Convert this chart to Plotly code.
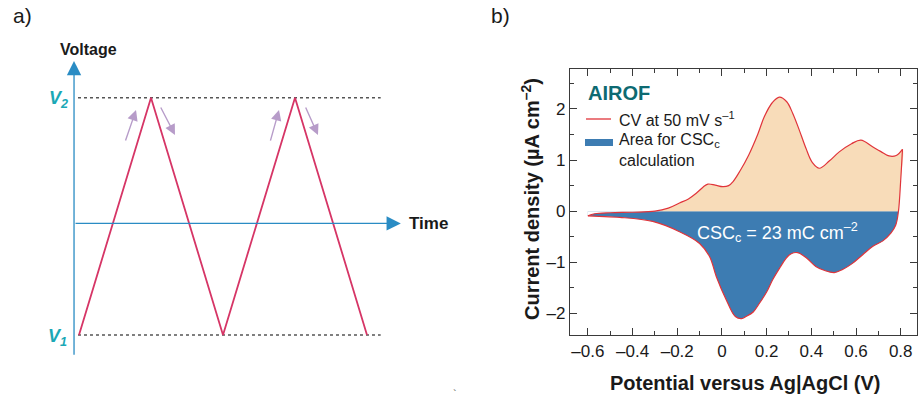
import plotly.graph_objects as go

# ---------------- Panel a data (triangular potential waveform) ----------------
wave_t = [0, 1, 2, 3, 4]
wave_v = [0, 1, 0, 1, 0]          # V1 = 0, V2 = 1 (schematic levels)
v_levels = [0, 1]
level_names = ["V<sub>1</sub>", "V<sub>2</sub>"]
time_axis_level = 0.47

# ---------------- Panel b data (cyclic voltammogram) ----------------
upper_v = [-0.6, -0.57, -0.5, -0.4, -0.3, -0.24, -0.19, -0.15, -0.115, -0.085, -0.063, -0.03,
           0.004, 0.03, 0.05, 0.08, 0.12, 0.16, 0.19, 0.225, 0.257, 0.29, 0.317, 0.345, 0.376,
           0.405, 0.436, 0.48, 0.525, 0.58, 0.622, 0.674, 0.71, 0.748, 0.78, 0.808]
upper_i = [-0.09, -0.05, -0.03, -0.02, 0.0, 0.06, 0.16, 0.24, 0.35, 0.47, 0.53, 0.51,
           0.48, 0.50, 0.58, 0.78, 1.10, 1.50, 1.85, 2.12, 2.23, 2.14, 1.91, 1.60, 1.23,
           0.95, 0.84, 0.98, 1.16, 1.32, 1.39, 1.26, 1.17, 1.08, 1.09, 1.21]
lower_v = [0.808, 0.80, 0.79, 0.778, 0.756, 0.72, 0.674, 0.63, 0.584, 0.54, 0.503, 0.46,
           0.42, 0.38, 0.339, 0.31, 0.287, 0.26, 0.227, 0.2, 0.168, 0.14, 0.108, 0.088,
           0.06, 0.019, -0.025, -0.055, -0.1, -0.19, -0.31, -0.457, -0.55, -0.6]
lower_i = [1.21, 0.6, 0.0, -0.27, -0.43, -0.58, -0.69, -0.85, -1.02, -1.14, -1.20, -1.16,
           -1.08, -0.92, -0.81, -0.83, -0.92, -1.10, -1.34, -1.58, -1.80, -1.97, -2.06, -2.10,
           -2.06, -1.73, -1.28, -0.89, -0.63, -0.40, -0.20, -0.12, -0.10, -0.09]

x_ticks = [-0.6, -0.4, -0.2, 0, 0.2, 0.4, 0.6, 0.8]
x_ticktext = ["\u20130.6", "\u20130.4", "\u20130.2", "0", "0.2", "0.4", "0.6", "0.8"]
x_minor = [-0.5, -0.3, -0.1, 0.1, 0.3, 0.5, 0.7]
y_ticks = [-2, -1, 0, 1, 2]
y_ticktext = ["\u20132", "\u20131", "0", "1", "2"]
y_minor = [-1.5, -0.5, 0.5, 1.5, 2.5]

FONT = "Liberation Sans, Arial, Helvetica, sans-serif"
RED = "#e0343a"
BLUE_FILL = "#3d7cb2"
ORANGE_FILL = "#f8dcb9"
TEAL = "#0d6a72"
AXBLUE = "#2a8cc4"
PINK = "#d63566"
PURPLE = "#b79cc9"
V_COLOR = "#1ba8b6"
DARK = "#1a1a1a"

fig = go.Figure()

# ---------- panel b fills ----------
i0 = upper_i.index(0.0)
orange_v = upper_v[i0:] + lower_v[1:3]
orange_i = upper_i[i0:] + lower_i[1:3]
fig.add_trace(go.Scatter(x=lower_v[2:], y=lower_i[2:], mode="lines", fill="tozeroy",
                         fillcolor=BLUE_FILL, line=dict(width=0, shape="spline"),
                         hoverinfo="skip", showlegend=False))
fig.add_trace(go.Scatter(x=upper_v[:i0 + 1], y=upper_i[:i0 + 1], mode="lines", fill="tozeroy",
                         fillcolor="white", line=dict(width=0, shape="spline"),
                         hoverinfo="skip", showlegend=False))
fig.add_trace(go.Scatter(x=orange_v, y=orange_i, mode="lines", fill="tozeroy",
                         fillcolor=ORANGE_FILL, line=dict(width=0, shape="spline"),
                         hoverinfo="skip", showlegend=False))
# ---------- panel b outline ----------
fig.add_trace(go.Scatter(x=upper_v, y=upper_i, mode="lines",
                         line=dict(color=RED, width=1.2, shape="spline"),
                         hoverinfo="skip", showlegend=False))
fig.add_trace(go.Scatter(x=lower_v, y=lower_i, mode="lines",
                         line=dict(color=RED, width=1.2, shape="spline"),
                         hoverinfo="skip", showlegend=False))

# ---------- panel a ----------
t_lo, t_hi = -0.014, 4.19
for lv in v_levels:
    fig.add_trace(go.Scatter(x=[t_lo, t_hi], y=[lv, lv], mode="lines", xaxis="x2", yaxis="y2",
                             line=dict(color="#555555", width=1.6, dash="dot"),
                             hoverinfo="skip", showlegend=False))
fig.add_trace(go.Scatter(x=wave_t, y=wave_v, mode="lines", xaxis="x2", yaxis="y2",
                         line=dict(color=PINK, width=1.8), hoverinfo="skip", showlegend=False))

ann = []
# axes arrows panel a
ann.append(dict(x=-0.069, y=1.155, ax=-0.069, ay=-0.09, xref="x2", yref="y2", axref="x2", ayref="y2",
                text="", showarrow=True, arrowhead=2, arrowsize=2.2, arrowwidth=1.3, arrowcolor=AXBLUE))
ann.append(dict(x=4.47, y=time_axis_level, ax=-0.069, ay=time_axis_level, xref="x2", yref="y2",
                axref="x2", ayref="y2", text="", showarrow=True, arrowhead=2, arrowsize=2.2,
                arrowwidth=1.3, arrowcolor=AXBLUE))
# direction arrows
for (tx, ty, hx, hy) in [(0.639, 0.813, 0.792, 0.948), (1.125, 0.965, 1.333, 0.843),
                         (2.653, 0.813, 2.778, 0.948), (3.139, 0.965, 3.319, 0.843)]:
    ann.append(dict(x=hx, y=hy, ax=tx, ay=ty, xref="x2", yref="y2", axref="x2", ayref="y2",
                    text="", showarrow=True, arrowhead=2, arrowsize=1.5, arrowwidth=1.4,
                    arrowcolor=PURPLE))

W, H = 918, 401


def ptext(x, y, text, size, color=DARK, xanchor="center", **kw):
    d = dict(x=x / W, y=1 - y / H, xref="paper", yref="paper", text=text, showarrow=False,
             xanchor=xanchor, yanchor="middle", font=dict(family=FONT, size=size, color=color))
    d.update(kw)
    ann.append(d)


ptext(88, 49, "<b>Voltage</b>", 16)
ptext(407, 224, "<b>Time</b>", 17, xanchor="left")
ptext(58, 99, "<b><i>" + level_names[1] + "</i></b>", 18, color=V_COLOR)
ptext(57, 337, "<b><i>" + level_names[0] + "</i></b>", 18, color=V_COLOR)
ptext(22, 15, "a)", 21)
ptext(500, 15, "b)", 21)
ptext(455, 394, "`", 11, color="#555555")

# panel b text
ptext(586, 93, "<b>AIROF</b>", 20, color=TEAL, xanchor="left")
ptext(617, 119, "CV at 50 mV s<sup>\u20131</sup>", 16, xanchor="left")
ptext(617, 150, "Area for CSC<sub>c</sub><br>calculation", 16, xanchor="left", align="left")
ptext(777, 232, "CSC<sub>c</sub> = 23 mC cm<sup>\u20132</sup>", 18, color="white")
ptext(745, 383, "<b>Potential versus Ag|AgCl (V)</b>", 20)
ptext(530, 199, "<b>Current density (\u00b5A cm<sup>\u20132</sup>)</b>", 20, textangle=-90)

shapes = [
    dict(type="line", xref="paper", yref="paper", x0=586 / W, x1=611 / W, y0=1 - 119 / H, y1=1 - 119 / H,
         line=dict(color=RED, width=1.3)),
    dict(type="rect", xref="paper", yref="paper", x0=585 / W, x1=613 / W, y0=1 - 146 / H, y1=1 - 139 / H,
         fillcolor=BLUE_FILL, line=dict(width=0)),
]

axis_common = dict(showline=True, mirror="ticks", linecolor="#3a3a3a", linewidth=1.3,
                   ticks="inside", ticklen=7, tickwidth=1.2, tickcolor="#3a3a3a",
                   showgrid=False, zeroline=False,
                   tickfont=dict(family=FONT, size=17, color=DARK))

fig.update_layout(
    width=W, height=H, margin=dict(l=0, r=0, t=0, b=0),
    paper_bgcolor="white", plot_bgcolor="rgba(0,0,0,0)",
    xaxis=dict(domain=[570 / W, 917 / W], range=[-0.68, 0.873], tickmode="array",
               tickvals=x_ticks, ticktext=x_ticktext,
               minor=dict(tickmode="array", tickvals=x_minor, ticks="inside", ticklen=4,
                          tickwidth=1.2, tickcolor="#3a3a3a", showgrid=False),
               anchor="y", **axis_common),
    yaxis=dict(domain=[1 - 335 / H, 1 - 69 / H], range=[-2.42, 2.78], tickmode="array",
               tickvals=y_ticks, ticktext=y_ticktext,
               minor=dict(tickmode="array", tickvals=y_minor, ticks="inside", ticklen=4,
                          tickwidth=1.2, tickcolor="#3a3a3a", showgrid=False),
               anchor="x", **axis_common),
    xaxis2=dict(domain=[0, 459 / W], range=[-79 / 72, (459 - 79) / 72], visible=False, anchor="y2"),
    yaxis2=dict(domain=[0, 1], range=[-(401 - 335) / 237.3, 1 + 97.7 / 237.3], visible=False, anchor="x2"),
    annotations=ann, shapes=shapes,
)

fig.write_html("out.html")
